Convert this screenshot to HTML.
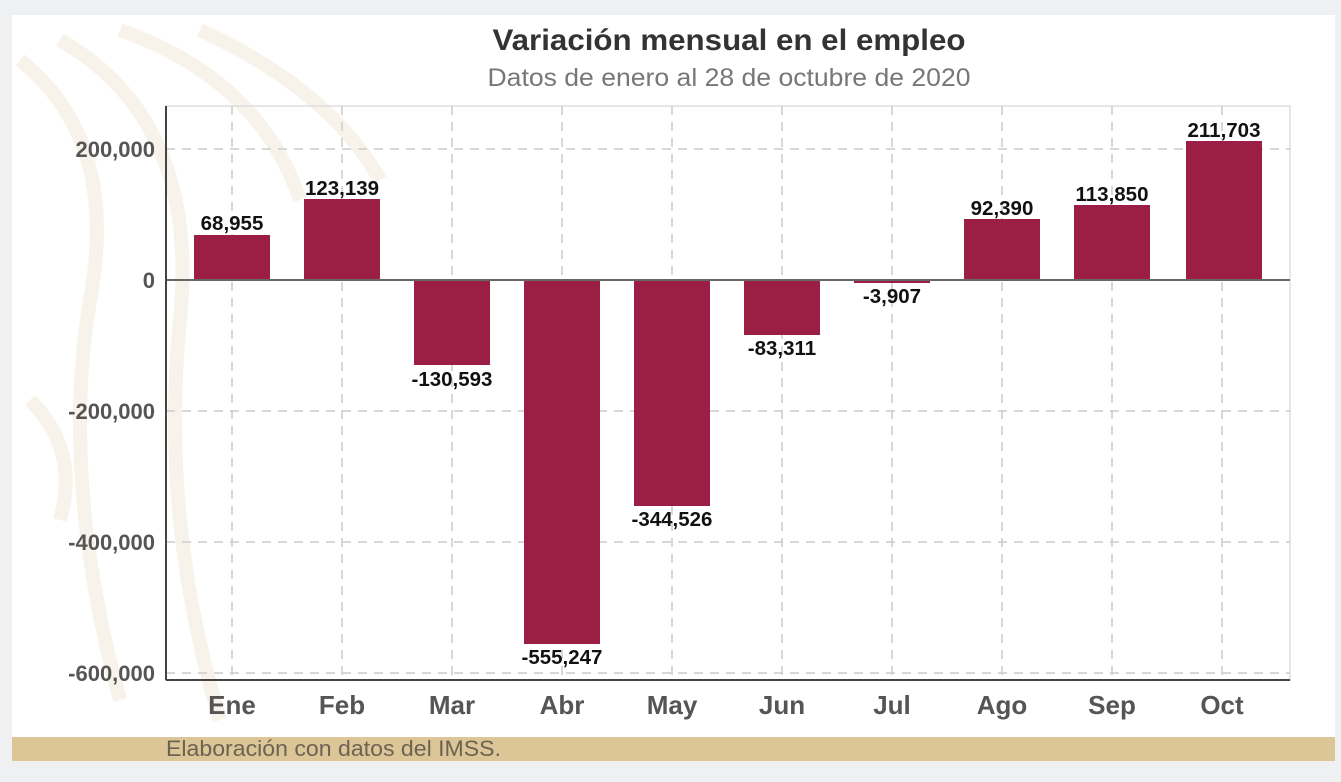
<!DOCTYPE html>
<html><head><meta charset="utf-8"><style>
body{margin:0;background:#eef0f2;}
svg{display:block;font-family:"Liberation Sans",sans-serif;}
</style></head><body>
<svg width="1341" height="782" viewBox="0 0 1341 782">
<rect x="0" y="0" width="1341" height="782" fill="#eef0f2"/>
<rect x="12" y="15" width="1323" height="746" fill="#fff"/>
<g fill="none" stroke="#f8f3ea" stroke-width="14">
<path d="M20 60 Q120 140 90 300 Q60 480 120 700"/>
<path d="M60 40 Q200 120 180 320 Q160 520 220 720"/>
<path d="M120 30 Q260 80 300 200"/>
<path d="M30 400 Q80 450 60 520"/>
<path d="M200 30 Q330 90 380 180"/>
</g>
<rect x="12" y="737" width="1323" height="24" fill="#dcc596"/>
<text x="166" y="756" font-size="22" fill="#6d6353" textLength="335" lengthAdjust="spacingAndGlyphs">Elaboración con datos del IMSS.</text>
<text x="729" y="50" font-size="30" font-weight="bold" fill="#333" text-anchor="middle" textLength="473" lengthAdjust="spacingAndGlyphs">Variación mensual en el empleo</text>
<text x="729" y="86" font-size="25" fill="#777" text-anchor="middle" textLength="483" lengthAdjust="spacingAndGlyphs">Datos de enero al 28 de octubre de 2020</text>
<rect x="166" y="106" width="1124" height="574" fill="none" stroke="#ddd" stroke-width="1.5"/>
<g stroke="#ccc" stroke-width="1.5" stroke-dasharray="9,7">
<line x1="166" y1="149" x2="1290" y2="149"/>
<line x1="166" y1="411" x2="1290" y2="411"/>
<line x1="166" y1="542" x2="1290" y2="542"/>
<line x1="166" y1="673" x2="1290" y2="673"/>
<line x1="232" y1="106" x2="232" y2="680"/><line x1="342" y1="106" x2="342" y2="680"/>
<line x1="452" y1="106" x2="452" y2="680"/><line x1="562" y1="106" x2="562" y2="680"/>
<line x1="672" y1="106" x2="672" y2="680"/><line x1="782" y1="106" x2="782" y2="680"/>
<line x1="892" y1="106" x2="892" y2="680"/><line x1="1002" y1="106" x2="1002" y2="680"/>
<line x1="1112" y1="106" x2="1112" y2="680"/><line x1="1222" y1="106" x2="1222" y2="680"/>
</g>
<g fill="#9b1f45">
<rect x="194" y="235" width="76" height="45"/>
<rect x="304" y="199" width="76" height="81"/>
<rect x="414" y="280" width="76" height="85"/>
<rect x="524" y="280" width="76" height="364"/>
<rect x="634" y="280" width="76" height="226"/>
<rect x="744" y="280" width="76" height="55"/>
<rect x="854" y="280" width="76" height="3"/>
<rect x="964" y="219" width="76" height="61"/>
<rect x="1074" y="205" width="76" height="75"/>
<rect x="1186" y="141" width="76" height="139"/>
</g>
<line x1="166" y1="280" x2="1290" y2="280" stroke="#666" stroke-width="2"/>
<line x1="166" y1="106" x2="166" y2="680" stroke="#444" stroke-width="2"/>
<line x1="166" y1="680" x2="1290" y2="680" stroke="#444" stroke-width="2"/>
<g font-size="20.5" font-weight="bold" fill="#111" text-anchor="middle">
<text x="232" y="230">68,955</text>
<text x="342" y="195">123,139</text>
<text x="452" y="386">-130,593</text>
<text x="562" y="664">-555,247</text>
<text x="672" y="526">-344,526</text>
<text x="782" y="355">-83,311</text>
<text x="892" y="303">-3,907</text>
<text x="1002" y="215">92,390</text>
<text x="1112" y="201">113,850</text>
<text x="1224" y="137">211,703</text>
</g>
<g font-size="22" font-weight="bold" fill="#555" text-anchor="end">
<text x="155" y="157">200,000</text>
<text x="155" y="288">0</text>
<text x="155" y="419">-200,000</text>
<text x="155" y="550">-400,000</text>
<text x="155" y="681">-600,000</text>
</g>
<g font-size="26" font-weight="bold" fill="#555" text-anchor="middle">
<text x="232" y="714">Ene</text><text x="342" y="714">Feb</text><text x="452" y="714">Mar</text>
<text x="562" y="714">Abr</text><text x="672" y="714">May</text><text x="782" y="714">Jun</text>
<text x="892" y="714">Jul</text><text x="1002" y="714">Ago</text><text x="1112" y="714">Sep</text>
<text x="1222" y="714">Oct</text>
</g>
</svg>
</body></html>
